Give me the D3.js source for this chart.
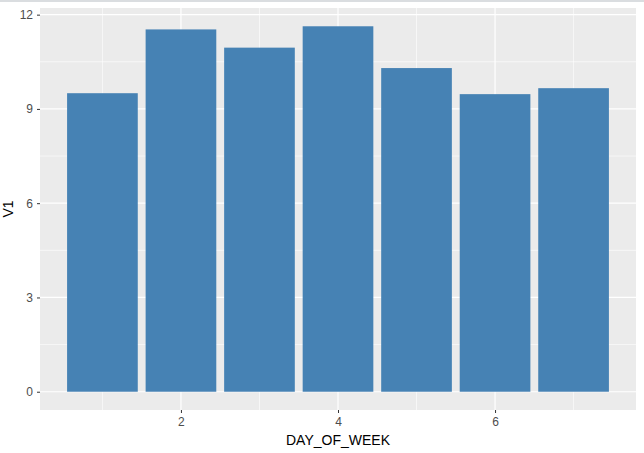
<!DOCTYPE html>
<html>
<head>
<meta charset="utf-8">
<script src="https://cdn.jsdelivr.net/npm/d3@7"></script>
<style>
  body { margin: 0; background: #fff; }
  svg { display: block; font-family: "Liberation Sans", Arial, sans-serif; }
</style>
</head>
<body>
<svg id="chart"></svg>
<script>
const days = [1, 2, 3, 4, 5, 6, 7];
const v1 = [9.50, 11.53, 10.95, 11.63, 10.30, 9.47, 9.66];
const xTicks = [2, 4, 6];
const yTicks = [0, 3, 6, 9, 12];

const W = 644, H = 453;
const margin = { top: 8, right: 8, bottom: 43, left: 40 };
const width = W - margin.left - margin.right;
const height = H - margin.top - margin.bottom;

const svg = d3.select('#chart').attr('width', W).attr('height', H);

// thin grey strip along the top edge
svg.append('rect').attr('x', 0).attr('y', 0).attr('width', W).attr('height', 2).attr('fill', '#dadde0');

const g = svg.append('g').attr('transform', `translate(${margin.left},${margin.top})`);

// ggplot-like expansion of 5%
const xMin = d3.min(days) - 0.45, xMax = d3.max(days) + 0.45;
const xPad = (xMax - xMin) * 0.05;
const x = d3.scaleLinear().domain([xMin - xPad, xMax + xPad]).range([0, width]);
const yMax = d3.max(v1);
const y = d3.scaleLinear().domain([-yMax * 0.05, yMax * 1.05]).range([height, 0]);

g.append('rect').attr('width', width).attr('height', height).attr('fill', '#ebebeb');

// minor grid
const xMinor = [1, 3, 5, 7];
const yMinor = [1.5, 4.5, 7.5, 10.5];
g.selectAll('.xminor').data(xMinor).enter().append('line')
  .attr('x1', d => x(d)).attr('x2', d => x(d)).attr('y1', 0).attr('y2', height)
  .attr('stroke', '#fff').attr('stroke-width', 0.6);
g.selectAll('.yminor').data(yMinor).enter().append('line')
  .attr('y1', d => y(d)).attr('y2', d => y(d)).attr('x1', 0).attr('x2', width)
  .attr('stroke', '#fff').attr('stroke-width', 0.6);
// major grid
g.selectAll('.xmajor').data(xTicks).enter().append('line')
  .attr('x1', d => x(d)).attr('x2', d => x(d)).attr('y1', 0).attr('y2', height)
  .attr('stroke', '#fff').attr('stroke-width', 1.2);
g.selectAll('.ymajor').data(yTicks).enter().append('line')
  .attr('y1', d => y(d)).attr('y2', d => y(d)).attr('x1', 0).attr('x2', width)
  .attr('stroke', '#fff').attr('stroke-width', 1.2);

// bars
g.selectAll('.bar').data(days).enter().append('rect')
  .attr('class', 'bar')
  .attr('x', d => x(d - 0.45))
  .attr('width', d => x(d + 0.45) - x(d - 0.45))
  .attr('y', (d, i) => y(v1[i]))
  .attr('height', (d, i) => y(0) - y(v1[i]))
  .attr('fill', '#4682b4');

// axes
const xAxis = g.append('g').attr('transform', `translate(0,${height})`)
  .call(d3.axisBottom(x).tickValues(xTicks).tickSize(3).tickPadding(4));
const yAxis = g.append('g')
  .call(d3.axisLeft(y).tickValues(yTicks).tickSize(3).tickPadding(4));
[xAxis, yAxis].forEach(a => {
  a.select('.domain').remove();
  a.selectAll('line').attr('stroke', '#333');
  a.selectAll('text').attr('fill', '#4d4d4d').style('font-size', '12px');
});

svg.append('text')
  .attr('x', margin.left + width / 2).attr('y', H - 8)
  .attr('text-anchor', 'middle').style('font-size', '14px').attr('fill', '#000')
  .text('DAY_OF_WEEK');

svg.append('text')
  .attr('transform', `translate(13,${margin.top + height / 2}) rotate(-90)`)
  .attr('text-anchor', 'middle').style('font-size', '14px').attr('fill', '#000')
  .text('V1');
</script>
</body>
</html>
